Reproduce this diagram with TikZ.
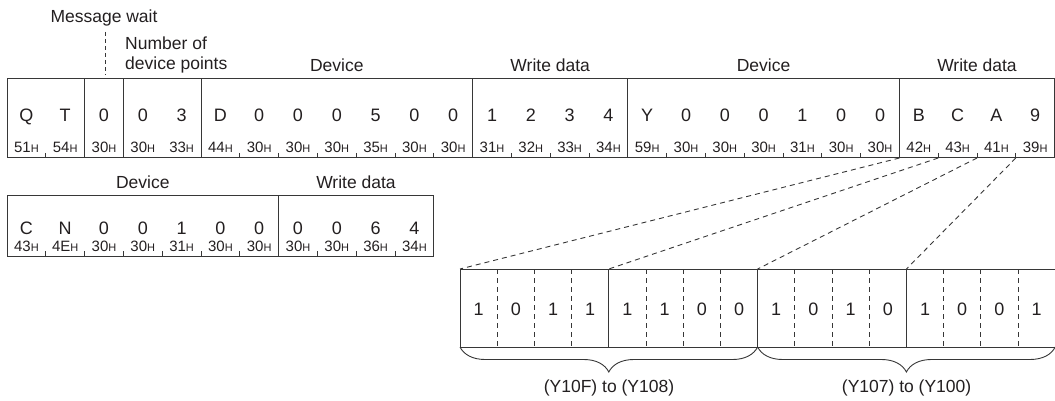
\documentclass[tikz,border=0pt]{standalone}
\usepackage{fontspec}
\setmainfont{Liberation Sans}
\usetikzlibrary{decorations.pathreplacing}
\definecolor{ink}{RGB}{35,31,32}
\definecolor{rulec}{RGB}{55,55,55}
\begin{document}
\begin{tikzpicture}[x=1pt,y=-1pt,
  every node/.style={text=ink, inner sep=0pt},
  frame/.style={draw=rulec, line width=1pt},
  tickline/.style={draw=rulec, line width=0.9pt},
  link/.style={draw=rulec, line width=0.9pt, dash pattern=on 5pt off 4pt},
  bitsep/.style={draw=rulec, line width=0.8pt, dash pattern=on 5pt off 4pt},
  waitline/.style={draw=rulec, line width=0.8pt, dash pattern=on 4pt off 3pt},
  chr/.style={font=\fontsize{18}{18}\selectfont, anchor=base},
  hexl/.style={font=\fontsize{15}{15}\selectfont, anchor=base},
  lbl/.style={font=\fontsize{17.5}{17.5}\selectfont},
  bracepath/.style={draw=rulec, line width=0.9pt, decorate,
     decoration={brace, mirror, amplitude=25pt}},
]
\useasboundingbox (0,0) rectangle (1055,401);
\def\w{38.8}
\def\bw{37.2}
\newcommand{\hsub}{{\fontsize{11}{11}\selectfont H}}
% ---------- top table ----------
\node[lbl] (lmw) at (104,18) {Message wait};
\node[lbl, anchor=west] (lnp1) at (125,43) {Number of};
\node[lbl, anchor=west] (lnp2) at (125,65) {device points};
\node[lbl] (ldev1) at (336.8,65) {Device};
\node[lbl] (lwd1) at (550.2,65) {Write data};
\node[lbl] (ldev2) at (763.6,65) {Device};
\node[lbl] (lwd2) at (977.0,65) {Write data};
\coordinate (mwa) at (105,32);
\coordinate (mwb) at (105,75);
\draw[waitline] (mwa) -- (mwb);
\draw[frame] (7,79) rectangle (1054.6,158);
\foreach \k in {2,3,5,12,16,23}
  \draw[frame] (7+\k*\w,79) -- (7+\k*\w,158);
\foreach \k in {1,6,7,8,9,10,11,13,14,15,17,18,19,20,21,22,24,25,26}
  \draw[tickline] (7+\k*\w,153) coordinate (tk\k) -- (7+\k*\w,158) coordinate (tb\k);
\foreach \c [count=\i] in {Q,T,0,0,3,D,0,0,0,5,0,0,1,2,3,4,Y,0,0,0,1,0,0,B,C,A,9}
  \node[chr] (c\i) at (7+\i*\w-0.5*\w,121.5) {\c};
\foreach \h [count=\i] in {51,54,30,30,33,44,30,30,30,35,30,30,31,32,33,34,59,30,30,30,31,30,30,42,43,41,39}
  \node[hexl] (h\i) at (7+\i*\w-0.5*\w,153) {\h\hsub};
% ---------- second table ----------
\node[lbl] (ldev3) at (142.8,182) {Device};
\node[lbl] (lwd3) at (356.0,182) {Write data};
\draw[frame] (7,195) rectangle (7+11*\w,256);
\draw[frame] (7+7*\w,195) -- (7+7*\w,256);
\foreach \k in {1,2,3,4,5,6,8,9,10}
  \draw[tickline] (7+\k*\w,251) -- (7+\k*\w,256);
\foreach \c [count=\i] in {C,N,0,0,1,0,0,0,0,6,4}
  \node[chr] (d\i) at (7+\i*\w-0.5*\w,234.5) {\c};
\foreach \h [count=\i] in {43,4E,30,30,31,30,30,30,30,36,34}
  \node[hexl] (e\i) at (7+\i*\w-0.5*\w,251.5) {\h\hsub};
% ---------- bit table ----------
\draw[frame] (460,269) rectangle (460+16*\bw,347);
\foreach \k in {0,4,8,12,16}
  \coordinate (bt\k) at (460+\k*\bw,269);
\foreach \k in {0,8,16}
  \coordinate (bb\k) at (460+\k*\bw,347);
\foreach \k in {4,8,12}
  \draw[frame] (bt\k) -- (460+\k*\bw,347);
\foreach \k in {1,2,3,5,6,7,9,10,11,13,14,15}
  \draw[bitsep] (460+\k*\bw,269) -- (460+\k*\bw,347);
\foreach \b [count=\i] in {1,0,1,1,1,1,0,0,1,0,1,0,1,0,0,1}
  \node[chr] (b\i) at (460+\i*\bw-0.5*\bw,315.5) {\b};
% connectors
\coordinate (s23) at (7+23*\w,158);
\draw[link] (s23) -- (bt0);
\draw[link] (tb24) -- (bt4);
\draw[link] (tb25) -- (bt8);
\draw[link] (tb26) -- (bt12);
% braces
\draw[bracepath] (bb0) -- (bb8);
\draw[bracepath] (bb8) -- (bb16);
\node[lbl] (r1) at (609.0,388) {(Y10F) to (Y108)};
\node[lbl] (r2) at (906.6,388) {(Y107) to (Y100)};
\end{tikzpicture}
\end{document}
